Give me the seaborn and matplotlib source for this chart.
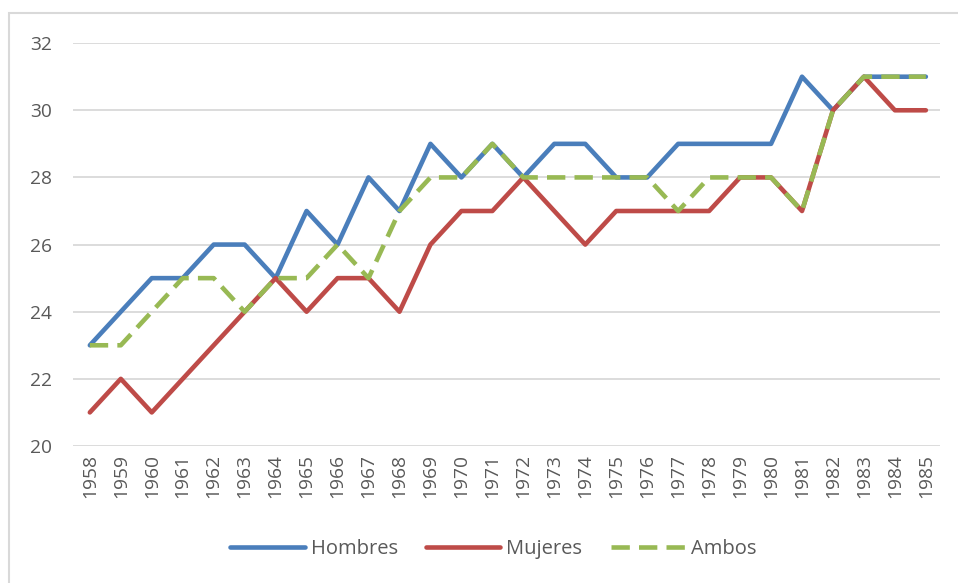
import numpy as np
import pandas as pd
import seaborn as sns
import matplotlib.pyplot as plt
from matplotlib.patches import Rectangle

# Datos
years = list(range(1958, 1986))
hombres = [23, 24, 25, 25, 26, 26, 25, 27, 26, 28, 27, 29, 28, 29,
           28, 29, 29, 28, 28, 29, 29, 29, 29, 31, 30, 31, 31, 31]
mujeres = [21, 22, 21, 22, 23, 24, 25, 24, 25, 25, 24, 26, 27, 27,
           28, 27, 26, 27, 27, 27, 27, 28, 28, 27, 30, 31, 30, 30]
ambos = [23, 23, 24, 25, 25, 24, 25, 25, 26, 25, 27, 28, 28, 29,
         28, 28, 28, 28, 28, 27, 28, 28, 28, 27, 30, 31, 31, 31]
yticks = [20, 22, 24, 26, 28, 30, 32]

df = pd.DataFrame({'Año': years, 'Hombres': hombres, 'Mujeres': mujeres, 'Ambos': ambos})
long = df.melt(id_vars='Año', var_name='Serie', value_name='Edad')

sns.set_style('white')
plt.rcParams['font.family'] = ['Open Sans', 'DejaVu Sans']

fig = plt.figure(figsize=(9.58, 5.83), dpi=100)
ax = fig.add_axes([0.076, 0.235, 0.905, 0.691])

palette = {'Hombres': '#4A7EBB', 'Mujeres': '#BE4B48', 'Ambos': '#98B954'}
dash = (4, 2)
sns.lineplot(data=long, x='Año', y='Edad', hue='Serie', style='Serie',
             palette=palette, dashes={'Hombres': '', 'Mujeres': '', 'Ambos': dash},
             linewidth=3.3, ax=ax, legend=False)

ax.set_xlim(1957.45, 1985.45)
ax.set_ylim(20, 32)
ax.set_yticks(yticks)
ax.set_xticks(years)
ax.set_xticklabels([str(y) for y in years], rotation=90)
ax.tick_params(axis='both', labelsize=13.8, labelcolor='#595959', length=0)
ax.tick_params(axis='y', pad=15)
ax.tick_params(axis='x', pad=6)
ax.grid(axis='y', color='#D9D9D9', linewidth=1.3)
ax.set_axisbelow(True)
for s in ax.spines.values():
    s.set_visible(False)
ax.set_xlabel('')
ax.set_ylabel('')

# Leyenda inferior
handles = [plt.Line2D([], [], color=palette['Hombres'], lw=3.3, solid_capstyle='round'),
           plt.Line2D([], [], color=palette['Mujeres'], lw=3.3, solid_capstyle='round'),
           plt.Line2D([], [], color=palette['Ambos'], lw=3.3, dashes=dash)]
fig.legend(handles, ['Hombres', 'Mujeres', 'Ambos'], loc='center', ncol=3,
           bbox_to_anchor=(0.515, 0.058), frameon=False, fontsize=14.5,
           labelcolor='#595959', handlelength=3.7, handletextpad=0.3, columnspacing=1.4)

# Marco gris del grafico
fig.patches.append(Rectangle((9 / 958, -0.05), 1.1, 1 - 13 / 583 + 0.05,
                             transform=fig.transFigure, fill=False,
                             edgecolor='#D9D9D9', linewidth=1.5))

fig.savefig('out.png', dpi=100)
